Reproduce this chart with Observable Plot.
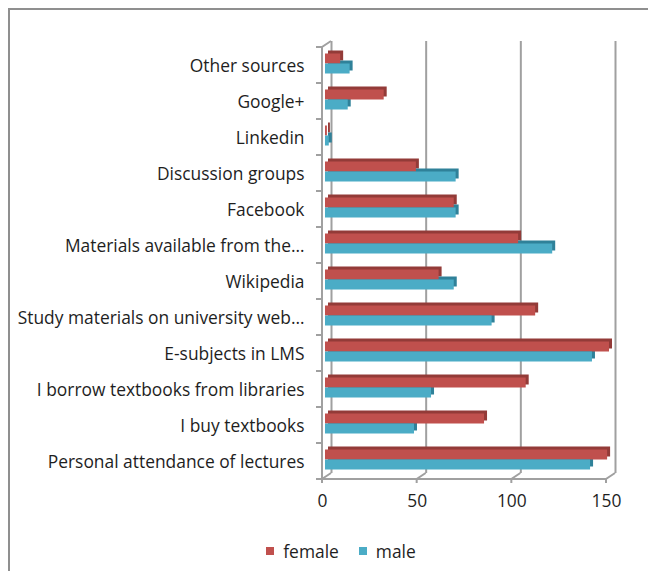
<!DOCTYPE html>
<html>
<head>
<meta charset="utf-8">
<script src="https://cdn.jsdelivr.net/npm/d3@7"></script>
<script src="https://cdn.jsdelivr.net/npm/@observablehq/plot@0.6"></script>
<style>
  html, body { margin: 0; padding: 0; background: #fff; }
  #wrap { position: relative; width: 648px; height: 571px; overflow: hidden; font-family: "Open Sans", sans-serif; color: #1e1e1e; }
  #border { position: absolute; left: 8px; top: 8px; width: 700px; height: 700px; border-left: 2px solid #8f8f8f; border-top: 2px solid #8f8f8f; pointer-events: none; }
  #legend { display: flex; align-items: center; justify-content: center; font-size: 17.4px; height: 20px; line-height: 20px; margin-top: 21px; padding-left: 34px; }
  #legend .sw { display: inline-block; width: 8px; height: 8px; margin-right: 9px; }
  #legend .item { display: flex; align-items: center; margin: 0 10px; }
</style>
</head>
<body>
<div id="wrap"><div id="chart"></div><div id="legend"></div><div id="border"></div></div>
<script>
const categories = [
  "Other sources",
  "Google+",
  "Linkedin",
  "Discussion groups",
  "Facebook",
  "Materials available from the…",
  "Wikipedia",
  "Study materials on university web…",
  "E-subjects in LMS",
  "I borrow textbooks from libraries",
  "I buy textbooks",
  "Personal attendance of lectures"
];
const female = [8, 31, 1, 48, 68, 102, 60, 111, 150, 106, 84, 149];
const male   = [13, 12, 2, 69, 69, 120, 68, 88, 141, 56, 47, 140];
const seriesNames = ["female", "male"];
const xTicks = [0, 50, 100, 150];

const colors = { female: "#c0504d", male: "#4bacc6" };
const depthColors = { female: "#933b38", male: "#2f8199" };

const rows = categories.map((c, i) => ({ category: c, female: female[i], male: male[i] }));

const FONT = 17.4;

function frame3d(index, scales) {
  const x = scales.x, y = scales.y;
  const bw = y.bandwidth();
  const top = y(categories[0]);
  const bottom = y(categories[categories.length - 1]) + bw;
  const x0 = x(xTicks[0]);
  const x1 = x(xTicks[xTicks.length - 1]);
  let d = `M${x0},${bottom}V${top}l9,-6`;
  for (let i = 0; i <= categories.length; i++) {
    const yy = top + i * bw;
    d += `M${x0 - 6},${yy}H${x0}`;
  }
  d += `M${x0},${bottom}H${x1}`;
  for (const v of xTicks) d += `M${x(v)},${bottom + 4}V${bottom}l9,-6`;
  const g = d3.create("svg:g");
  g.append("path").attr("d", d).attr("fill", "none").attr("stroke", "#a0a0a0").attr("stroke-width", 2);
  return g.node();
}

const barOpts = {
  female: { insetTop: 6.5, insetBottom: 19.5 },
  male: { insetTop: 16.5, insetBottom: 9.5 }
};

const chart = Plot.plot({
  width: 648,
  height: 520,
  marginLeft: 322,
  marginRight: 42,
  marginTop: 47,
  marginBottom: 41,
  style: { fontFamily: "Open Sans, sans-serif", fontSize: FONT + "px", color: "#1e1e1e", background: "transparent" },
  x: { domain: [0, 150] },
  y: { domain: categories, padding: 0 },
  marks: [
    Plot.ruleX(xTicks, { dx: 9, dy: -6, stroke: "#a0a0a0", strokeWidth: 2 }),
    frame3d,
    ...seriesNames.map(s => Plot.barX(rows, { x: s, y: "category", fill: depthColors[s], dx: 6, dy: -3, ...barOpts[s] })),
    ...seriesNames.map(s => Plot.barX(rows, { x: s, y: "category", fill: colors[s], dx: 3, ...barOpts[s] })),
    Plot.axisY({ tickSize: 0, tickPadding: 18, fontSize: FONT, label: null, dy: 1 }),
    Plot.axisX(xTicks, { tickSize: 0, tickPadding: 15, fontSize: FONT, label: null })
  ]
});
document.getElementById("chart").appendChild(chart);

const legend = d3.select("#legend");
for (const s of seriesNames) {
  const item = legend.append("span").attr("class", "item");
  item.append("span").attr("class", "sw").style("background", colors[s]);
  item.append("span").text(s);
}
</script>
</body>
</html>
